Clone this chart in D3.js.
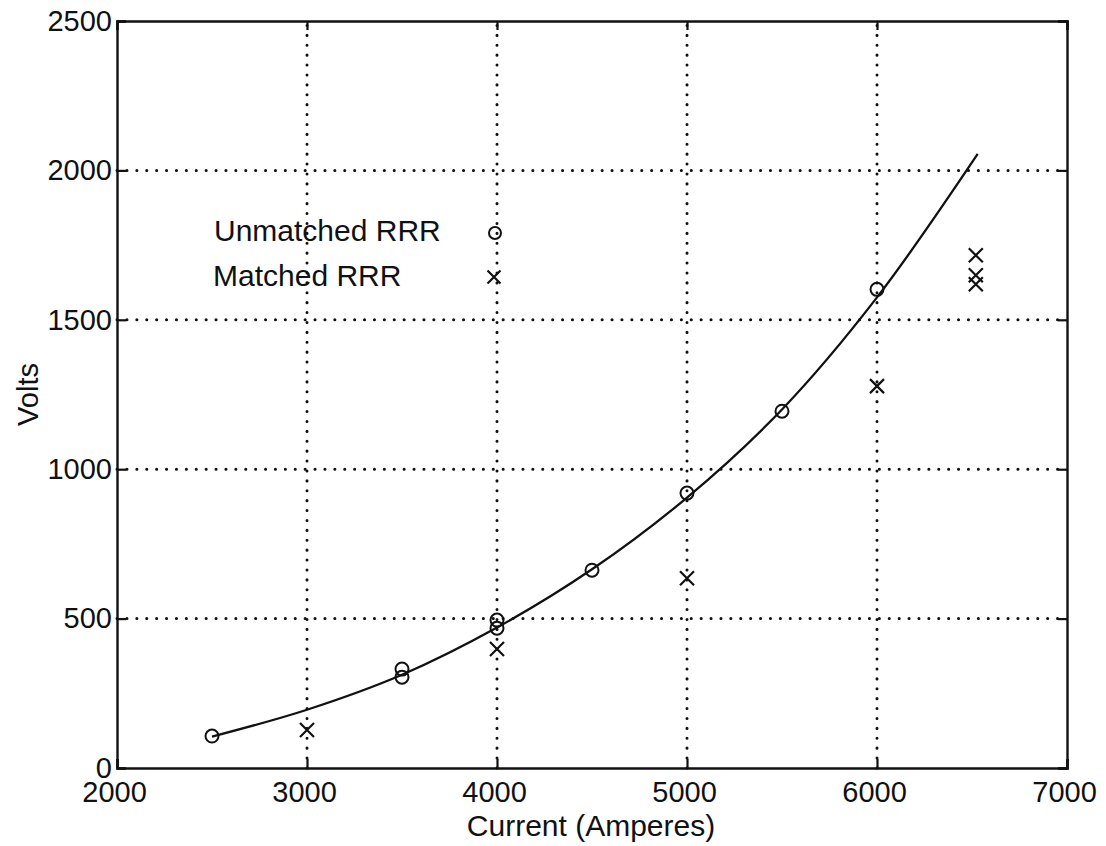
<!DOCTYPE html>
<html><head><meta charset="utf-8">
<script src="https://cdn.jsdelivr.net/npm/d3@7"></script>
<style>body{margin:0;background:#fff}svg{display:block}text{font-family:"Liberation Sans",Arial,sans-serif;fill:#111}</style>
</head><body><svg id="c" width="1106" height="846"></svg>
<script>
const xTicks = [2000, 3000, 4000, 5000, 6000, 7000];
const yTicks = [0, 500, 1000, 1500, 2000, 2500];
const unmatchedX = [2500, 3500, 3500, 4000, 4000, 4500, 5000, 5500, 6000];
const unmatchedY = [107, 331, 304, 495, 468, 662, 920, 1194, 1602];
const matchedX = [3000, 4000, 5000, 6000, 6520, 6520, 6520];
const matchedY = [127, 398, 635, 1278, 1716, 1649, 1619];
const fitX = [2500, 3000, 3500, 4000, 4500, 5000, 5500, 6000, 6530];
const fitY = [105, 195, 312, 470, 665, 905, 1200, 1575, 2055];
const legendLabels = ["Unmatched RRR", "Matched RRR"];

const svg = d3.select("#c");
const L = 117, R = 1067, T = 21, B = 768;
const x = d3.scaleLinear().domain([2000, 7000]).range([L, R]);
const y = d3.scaleLinear().domain([0, 2500]).range([B, T]);
const ink = "#111";
const FONT = '"Liberation Sans",Arial,sans-serif';

// grid
const g = svg.append("g");
xTicks.slice(1, -1).forEach(v => {
  g.append("line").attr("x1", x(v)).attr("x2", x(v)).attr("y1", B).attr("y2", T)
    .attr("stroke", ink).attr("stroke-width", 3).attr("stroke-linecap", "round").attr("stroke-dasharray", "0.1,9.8");
});
yTicks.slice(1, -1).forEach(v => {
  g.append("line").attr("x1", L).attr("x2", R).attr("y1", y(v)).attr("y2", y(v))
    .attr("stroke", ink).attr("stroke-width", 3).attr("stroke-linecap", "round").attr("stroke-dasharray", "0.1,9.8");
});

// axes with inward ticks
const fs = 29;
const axB = svg.append("g").attr("transform", `translate(0,${B})`)
  .call(d3.axisBottom(x).tickValues(xTicks).tickSize(-9).tickPadding(13).tickFormat(d3.format("d")));
const axT = svg.append("g").attr("transform", `translate(0,${T})`)
  .call(d3.axisTop(x).tickValues(xTicks).tickSize(-9).tickFormat(""));
const axL = svg.append("g").attr("transform", `translate(${L},0)`)
  .call(d3.axisLeft(y).tickValues(yTicks).tickSize(-9).tickPadding(5).tickFormat(d3.format("d")));
const axR = svg.append("g").attr("transform", `translate(${R},0)`)
  .call(d3.axisRight(y).tickValues(yTicks).tickSize(-9).tickFormat(""));
[axB, axT, axL, axR].forEach(a => {
  a.select(".domain").attr("stroke", ink).attr("stroke-width", 2.4);
  a.selectAll(".tick line").attr("stroke", ink).attr("stroke-width", 2.2);
  a.selectAll("text").attr("font-size", fs).attr("fill", ink).attr("font-family", FONT);
});
axB.selectAll(".tick text").attr("dy", "0.71em").attr("dx", -3);

// axis labels
svg.append("text").attr("x", x(4500) - 1).attr("y", 836).attr("text-anchor", "middle").attr("font-size", 30).text("Current (Amperes)");
svg.append("text").attr("transform", `translate(38,${y(1250)}) rotate(-90)`).attr("text-anchor", "middle").attr("font-size", 29).text("Volts");

// fitted curve
const fit = fitX.map((v, i) => [v, fitY[i]]);
svg.append("path").datum(fit)
  .attr("d", d3.line().x(d => x(d[0])).y(d => y(d[1])).curve(d3.curveCatmullRom.alpha(0.5)))
  .attr("fill", "none").attr("stroke", ink).attr("stroke-width", 2.3);

// markers
const circ = (cx, cy, r) => svg.append("circle").attr("cx", cx).attr("cy", cy).attr("r", r)
  .attr("fill", "none").attr("stroke", ink).attr("stroke-width", 2);
const cross = (cx, cy, s) => svg.append("path")
  .attr("d", `M${cx - s},${cy - s}L${cx + s},${cy + s}M${cx - s},${cy + s}L${cx + s},${cy - s}`)
  .attr("stroke", ink).attr("stroke-width", 2.2).attr("fill", "none");
unmatchedX.forEach((v, i) => circ(x(v), y(unmatchedY[i]), 6.5));
matchedX.forEach((v, i) => cross(x(v), y(matchedY[i]), 7));

// legend
svg.append("text").attr("x", 214).attr("y", 241).attr("font-size", 30).text(legendLabels[0]);
svg.append("text").attr("x", 213).attr("y", 286).attr("font-size", 30).text(legendLabels[1]);
circ(495, 233, 6);
cross(494, 277, 6.5);
</script></body></html>
